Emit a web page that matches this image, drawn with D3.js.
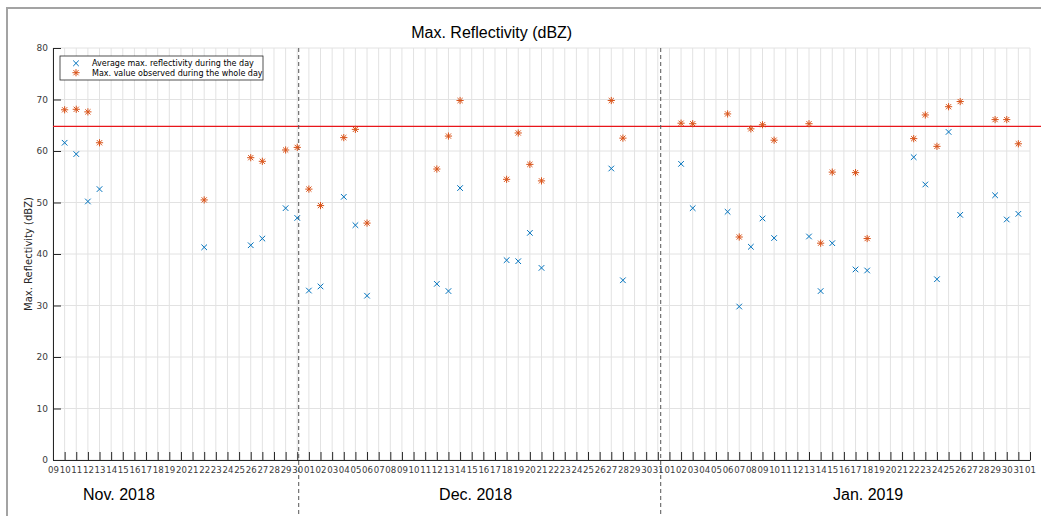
<!DOCTYPE html>
<html>
<head>
<meta charset="utf-8">
<script src="https://cdn.jsdelivr.net/npm/d3@7"></script>
<style>
  body { margin: 0; background: #fff; }
  svg { display: block; }
</style>
</head>
<body>
<svg id="chart" width="1041" height="516"></svg>
<script>
// Observation days (UTC)
const obsDates = [
  "2018-11-10","2018-11-11","2018-11-12","2018-11-13","2018-11-22","2018-11-26","2018-11-27","2018-11-29","2018-11-30",
  "2018-12-01","2018-12-02","2018-12-04","2018-12-05","2018-12-06","2018-12-12","2018-12-13","2018-12-14",
  "2018-12-18","2018-12-19","2018-12-20","2018-12-21","2018-12-27","2018-12-28",
  "2019-01-02","2019-01-03","2019-01-06","2019-01-07","2019-01-08","2019-01-09","2019-01-10","2019-01-13",
  "2019-01-14","2019-01-15","2019-01-17","2019-01-18","2019-01-22","2019-01-23","2019-01-24","2019-01-25",
  "2019-01-26","2019-01-29","2019-01-30","2019-01-31"
];
// Average max. reflectivity during the day (dBZ)
const avgReflectivity = [
  61.6, 59.4, 50.2, 52.6, 41.3, 41.7, 43.0, 48.9, 47.0,
  32.9, 33.7, 51.1, 45.6, 31.9, 34.2, 32.8, 52.8,
  38.8, 38.6, 44.1, 37.3, 56.6, 34.9,
  57.5, 48.9, 48.2, 29.8, 41.4, 46.9, 43.1, 43.4,
  32.8, 42.1, 37.0, 36.8, 58.8, 53.5, 35.1, 63.7,
  47.6, 51.4, 46.7, 47.8
];
// Max. value observed during the whole day (dBZ)
const maxReflectivity = [
  68.0, 68.1, 67.6, 61.6, 50.5, 58.7, 58.0, 60.2, 60.7,
  52.6, 49.4, 62.6, 64.2, 46.0, 56.5, 62.9, 69.8,
  54.5, 63.5, 57.4, 54.2, 69.8, 62.5,
  65.4, 65.3, 67.2, 43.3, 64.3, 65.1, 62.1, 65.3,
  42.1, 55.9, 55.8, 43.0, 62.4, 67.0, 60.9, 68.6,
  69.6, 66.1, 66.1, 61.4
];
const threshold = 64.8;
const yTicks = [0, 10, 20, 30, 40, 50, 60, 70, 80];
const xStart = "2018-11-09";
const xEnd = "2019-02-01";
const monthSeparators = ["2018-11-30T03:00", "2018-12-31T06:00"];
const monthLabels = ["Nov. 2018", "Dec. 2018", "Jan. 2019"];
const monthLabelDates = ["2018-11-14T16:00", "2018-12-15T08:00", "2019-01-18T02:00"];
const legendLabels = ["Average max. reflectivity during the day", "Max. value observed during the whole day"];

const parse = s => new Date(s + (s.length > 10 ? ":00Z" : "T00:00:00Z"));

const svg = d3.select("#chart");
const W = 1041, H = 516;
const plot = { left: 53, right: 1030, top: 48, bottom: 460 };

const x = d3.scaleUtc().domain([parse(xStart), parse(xEnd)]).range([plot.left, plot.right]);
const y = d3.scaleLinear().domain([0, 80]).range([plot.bottom, plot.top]);
const dayTicks = d3.utcDay.range(parse(xStart), d3.utcDay.offset(parse(xEnd), 1));

const BLUE = "#0072BD", ORANGE = "#D95319", AXIS = "#262626", LABEL = "#3a3a3a";

// figure frame
svg.append("path").attr("d", `M7,${H} L7,8 L${W},8`)
  .attr("fill", "none").attr("stroke", "#a3a3a3").attr("stroke-width", 2);

// grid
const grid = svg.append("g").attr("stroke", "#e2e2e2").attr("stroke-width", 1);
grid.selectAll("line.v").data(dayTicks).join("line")
  .attr("x1", d => x(d)).attr("x2", d => x(d))
  .attr("y1", plot.top).attr("y2", plot.bottom);
grid.selectAll("line.h").data(yTicks).join("line")
  .attr("x1", plot.left).attr("x2", plot.right)
  .attr("y1", d => y(d)).attr("y2", d => y(d));

// axes
const fontAxis = "'DejaVu Sans', sans-serif";
const gx = svg.append("g").attr("transform", `translate(0,${plot.bottom})`)
  .call(d3.axisBottom(x).tickValues(dayTicks).tickFormat(d3.utcFormat("%d"))
    .tickSize(-8).tickSizeOuter(0).tickPadding(7));
const gy = svg.append("g").attr("transform", `translate(${plot.left},0)`)
  .call(d3.axisLeft(y).tickValues(yTicks).tickSize(-8).tickSizeOuter(0).tickPadding(5));
[gx, gy].forEach(g => {
  g.selectAll("path, line").attr("stroke", AXIS);
  g.selectAll("text").attr("font-family", fontAxis).attr("fill", LABEL);
});
gy.selectAll("text").attr("font-size", 9);
gx.selectAll("text").attr("font-size", 8.6);

// threshold line
svg.append("line")
  .attr("x1", plot.left).attr("x2", W)
  .attr("y1", y(threshold)).attr("y2", y(threshold))
  .attr("stroke", "#e8161b").attr("stroke-width", 1.3);

// month separators
svg.selectAll("line.sep").data(monthSeparators).join("line")
  .attr("x1", d => x(parse(d))).attr("x2", d => x(parse(d)))
  .attr("y1", plot.top).attr("y2", H)
  .attr("stroke", "#555").attr("stroke-width", 1).attr("stroke-dasharray", "4,3");

// markers
const crossPath = r => `M${-r},${-r}L${r},${r}M${-r},${r}L${r},${-r}`;
const starPath = r => {
  const d = r * 0.72;
  return `M${-r},0L${r},0M0,${-r}L0,${r}M${-d},${-d}L${d},${d}M${-d},${d}L${d},${-d}`;
};
const pts = obsDates.map((d, i) => ({ date: parse(d), avg: avgReflectivity[i], max: maxReflectivity[i] }));

svg.append("g").selectAll("path").data(pts).join("path")
  .attr("transform", d => `translate(${x(d.date)},${y(d.avg)})`)
  .attr("d", crossPath(2.8))
  .attr("stroke", BLUE).attr("stroke-width", 1).attr("fill", "none");
svg.append("g").selectAll("path").data(pts).join("path")
  .attr("transform", d => `translate(${x(d.date)},${y(d.max)})`)
  .attr("d", starPath(3.6))
  .attr("stroke", ORANGE).attr("stroke-width", 1).attr("fill", "none");

// legend
const lg = svg.append("g").attr("transform", "translate(60,56)");
lg.append("rect").attr("width", 203).attr("height", 24)
  .attr("fill", "#fff").attr("stroke", AXIS).attr("stroke-width", 0.8);
const rows = lg.selectAll("g").data(legendLabels).join("g")
  .attr("transform", (d, i) => `translate(0,${7.3 + i * 9.4})`);
rows.append("path").attr("transform", "translate(16,0)")
  .attr("d", (d, i) => i === 0 ? crossPath(2.8) : starPath(3.6))
  .attr("stroke", (d, i) => i === 0 ? BLUE : ORANGE).attr("fill", "none");
rows.append("text").attr("x", 32).attr("y", 3)
  .attr("font-family", fontAxis).attr("font-size", 8).attr("fill", "#000")
  .text(d => d);

// y axis label
svg.append("text")
  .attr("transform", `translate(32,${(plot.top + plot.bottom) / 2}) rotate(-90)`)
  .attr("text-anchor", "middle")
  .attr("font-family", fontAxis).attr("font-size", 10).attr("fill", AXIS)
  .text("Max. Reflectivity (dBZ)");

// title
svg.append("text")
  .attr("x", 491.7).attr("y", 38).attr("text-anchor", "middle")
  .attr("font-family", "'Liberation Sans', Arial, sans-serif").attr("font-size", 16)
  .text("Max. Reflectivity (dBZ)");

// month labels
svg.selectAll("text.month").data(monthLabels).join("text")
  .attr("x", (d, i) => x(parse(monthLabelDates[i]))).attr("y", 500)
  .attr("text-anchor", "middle")
  .attr("font-family", "'Liberation Sans', Arial, sans-serif").attr("font-size", 16)
  .text(d => d);
</script>
</body>
</html>
